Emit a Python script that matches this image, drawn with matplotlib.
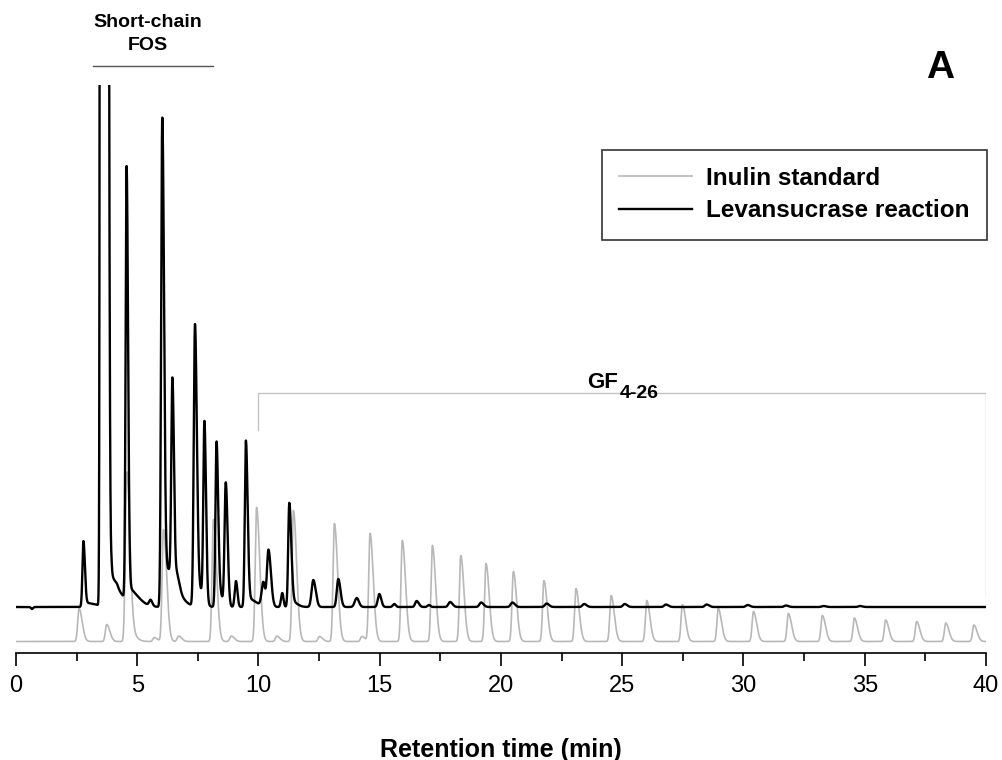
import numpy as np
import matplotlib
matplotlib.use('Agg')
import matplotlib.pyplot as plt

plt.rcParams['font.family'] = ['Liberation Sans', 'DejaVu Sans']

# peak tables (retention time in min, height in detector units)
std_rt = [2.6, 3.74, 4.56, 4.62, 5.7, 6.08, 6.7, 8.14, 8.87, 9.92, 10.75, 11.44, 12.51,
          13.13, 14.26, 14.6, 15.93, 17.17, 18.34, 19.38, 20.51, 21.77, 23.09, 24.54,
          26.01, 27.48, 28.96, 30.41, 31.85, 33.25, 34.57, 35.86, 37.14, 38.34, 39.5]
std_height = [33, 17, 162, 12, 4, 112, 5.5, 122, 5.5, 134, 5.5, 131, 5,
              118, 5, 108, 101, 96, 86, 78, 70, 61, 53, 46,
              41, 37, 33, 30, 28, 26, 23.5, 21.5, 20, 18.5, 16.5]

rxn_rt = [0.66, 2.78, 2.9, 3.56, 3.95, 4.2, 4.56, 4.65, 5.55, 6.03, 6.12, 6.45, 6.65,
          7.38, 7.5, 7.77, 8.27, 8.4, 8.65, 9.07, 9.48, 9.6, 10.2, 10.41, 10.98, 11.27,
          11.4, 12.26, 13.29, 14.05, 14.98, 15.6, 16.52, 17.03, 17.9, 19.18, 20.47,
          21.88, 23.43, 25.1, 26.8, 28.48, 30.17, 31.75, 33.3, 34.8]
rxn_height = [-2, 64, 4, 30000, 28, 14, 431, 16, 6, 481, 40, 199, 12,
              281, 20, 178, 165, 15, 124, 26, 166, 8, 24, 57, 14, 104,
              5, 27, 28, 9, 13, 3, 6, 2, 5, 4.5, 4.5,
              3.5, 3, 3, 2.5, 2.5, 2, 1.5, 1, 1]
rxn_wl = [0.04, 0.04, 0.1, 0.04, 0.03, 0.1, 0.04, 0.05, 0.06, 0.045, 0.05, 0.045, 0.05,
          0.05, 0.05, 0.045, 0.045, 0.05, 0.05, 0.05, 0.045, 0.05, 0.07, 0.06, 0.05, 0.045,
          0.05, 0.07, 0.06, 0.08, 0.06, 0.06, 0.06, 0.06, 0.07, 0.07, 0.07,
          0.07, 0.07, 0.07, 0.07, 0.07, 0.07, 0.07, 0.07, 0.07]
rxn_wr = [0.04, 0.06, 0.4, 0.10, 0.15, 0.3, 0.06, 0.4, 0.07, 0.07, 0.45, 0.065, 0.1,
          0.075, 0.2, 0.065, 0.065, 0.1, 0.075, 0.06, 0.07, 0.3, 0.07, 0.1, 0.05, 0.08,
          0.2, 0.1, 0.09, 0.09, 0.08, 0.06, 0.09, 0.06, 0.1, 0.1, 0.1,
          0.1, 0.1, 0.1, 0.1, 0.1, 0.1, 0.1, 0.1, 0.1]


def chromatogram(t, rt, height, wl, wr):
    # sum of asymmetric gaussian peaks
    y = np.zeros_like(t)
    for r, h, a, b in zip(rt, height, wl, wr):
        s = np.where(t < r, a, b)
        y += h * np.exp(-0.5 * ((t - r) / s) ** 2)
    return y


t = np.linspace(0, 40, 16001)
std_wl = [0.055] * len(std_rt)
std_wr = [0.13] * len(std_rt)
std_wr[3] = 0.25
y_std = chromatogram(t, std_rt, std_height, std_wl, std_wr) + 11.5
y_rxn = chromatogram(t, rxn_rt, rxn_height, rxn_wl, rxn_wr) + 46

fig = plt.figure(figsize=(10.03, 7.6), dpi=100)
ax = fig.add_axes([16 / 1003, 107 / 760, 970 / 1003, 568 / 760])

ax.plot(t, y_std, color='#b8b8b8', lw=1.2, label='Inulin standard')
ax.plot(t, y_rxn, color='black', lw=1.7, label='Levansucrase reaction')

ax.set_xlim(0, 40)
ax.set_ylim(0, 568)
for s in ['top', 'right', 'left']:
    ax.spines[s].set_visible(False)
ax.spines['bottom'].set_linewidth(1.2)
ax.set_yticks([])
ax.set_xticks(np.arange(0, 41, 5))
ax.set_xticks(np.arange(2.5, 40, 5), minor=True)
ax.tick_params(axis='x', which='major', length=9, width=1.2, labelsize=17, pad=7)
ax.tick_params(axis='x', which='minor', length=6, width=1.2)
ax.set_xlabel('Retention time (min)', fontsize=18, fontweight='bold', labelpad=29)

# short-chain FOS bracket
ax.plot([3.18, 8.12], [587, 587], color='#555555', lw=1, clip_on=False)
ax.text(5.45, 619, 'Short-chain\nFOS', ha='center', va='center', fontsize=14,
        fontweight='bold', linespacing=1.4)

# GF4-26 bracket
ax.plot([10, 10, 40, 40], [223, 260, 260, 58], color='#c4c4c4', lw=1)
ax.text(24.82, 270, 'GF', ha='right', va='center', fontsize=16, fontweight='bold')
ax.text(24.88, 259, '4-26', ha='left', va='center', fontsize=14, fontweight='bold')

ax.text(38.1, 585, 'A', ha='center', va='center', fontsize=28, fontweight='bold')

leg = ax.legend(loc='upper right', bbox_to_anchor=(1.001, 0.886), borderaxespad=0,
                fancybox=False, edgecolor='black', handlelength=3.0, handletextpad=0.6,
                prop={'size': 17.5, 'weight': 'bold'}, borderpad=0.7, labelspacing=0.4)
leg.get_frame().set_linewidth(1.2)

fig.savefig('out.png', dpi=100)
